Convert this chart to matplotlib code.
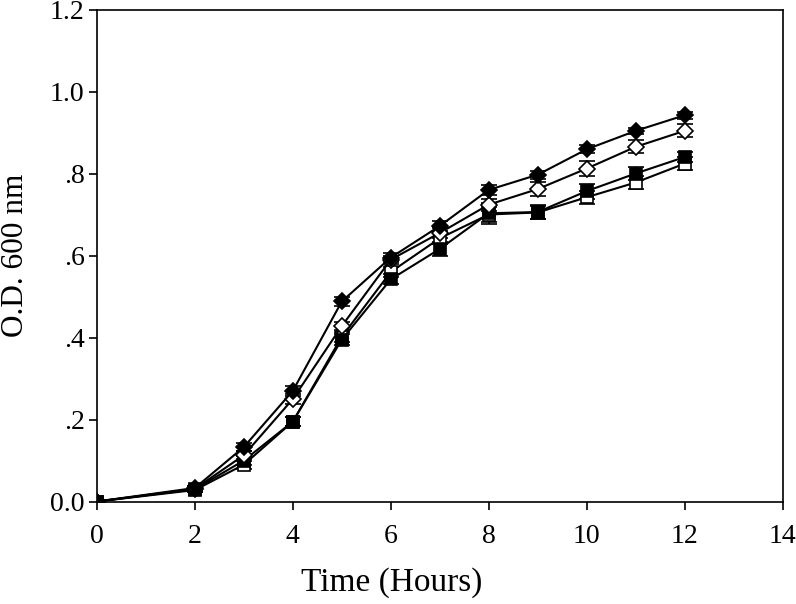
import matplotlib
matplotlib.use("Agg")
import matplotlib.pyplot as plt
from matplotlib.ticker import FixedLocator

plt.rcParams['font.family'] = ['Liberation Serif', 'DejaVu Serif']

hours = [0, 2, 3, 4, 5, 6, 7, 8, 9, 10, 11, 12]

filled_diamond = [0.0, 0.033, 0.133, 0.270, 0.488, 0.595, 0.672, 0.760, 0.797, 0.859, 0.904, 0.942]
filled_diamond_err = [0.004, 0.006, 0.010, 0.012, 0.010, 0.010, 0.012, 0.012, 0.010, 0.010, 0.008, 0.008]

open_diamond = [0.0, 0.031, 0.113, 0.250, 0.428, 0.590, 0.655, 0.724, 0.762, 0.812, 0.865, 0.904]
open_diamond_err = [0.004, 0.006, 0.010, 0.012, 0.010, 0.010, 0.012, 0.015, 0.018, 0.018, 0.016, 0.016]

filled_square = [0.0, 0.030, 0.100, 0.195, 0.395, 0.542, 0.616, 0.703, 0.706, 0.757, 0.800, 0.840]
filled_square_err = [0.004, 0.006, 0.010, 0.012, 0.014, 0.012, 0.018, 0.025, 0.016, 0.018, 0.016, 0.012]

open_square = [0.0, 0.028, 0.090, 0.195, 0.402, 0.560, 0.642, 0.700, 0.705, 0.742, 0.778, 0.824]
open_square_err = [0.004, 0.006, 0.010, 0.012, 0.012, 0.012, 0.014, 0.018, 0.016, 0.016, 0.016, 0.016]

xticks = [0, 2, 4, 6, 8, 10, 12, 14]
yticks = [0.0, 0.2, 0.4, 0.6, 0.8, 1.0, 1.2]
ytick_labels = ["0.0", ".2", ".4", ".6", ".8", "1.0", "1.2"]

fig = plt.figure(figsize=(7.96, 6.04), dpi=100)
ax = fig.add_axes([97 / 796, (604 - 501.5) / 604, 685.5 / 796, 492 / 604])

series = [
    (open_square, open_square_err, 's', 'white', 8),
    (filled_square, filled_square_err, 's', 'black', 8),
    (open_diamond, open_diamond_err, 'D', 'white', 8.5),
    (filled_diamond, filled_diamond_err, 'D', 'black', 8.5),
]
for vals, err, mk, fc, ms in series:
    ax.errorbar(hours, vals, yerr=err, color='black', lw=1.5, marker=mk,
                markerfacecolor=fc, markeredgecolor='black', markeredgewidth=1.2,
                markersize=ms, capsize=6, capthick=1.3, elinewidth=1.3)

ax.set_xlim(0, 14)
ax.set_ylim(0, 1.2)
ax.xaxis.set_major_locator(FixedLocator(xticks))
ax.set_yticks(yticks)
ax.set_yticklabels(ytick_labels)
ax.tick_params(axis='both', direction='out', length=6, width=1.2, labelsize=20,
               top=False, right=False)
ax.tick_params(axis='x', pad=10)
ax.tick_params(axis='y', pad=3)
for sp in ax.spines.values():
    sp.set_linewidth(1.2)
for t in ax.get_xticklabels() + ax.get_yticklabels():
    t.set_clip_on(False)
ax.set_xlabel("Time (Hours)", fontsize=24, labelpad=13)
ax.xaxis.label.set_x((392 - 97) / 685.5)
ax.set_ylabel("O.D. 600 nm", fontsize=22.5, labelpad=14)

fig.savefig("out.png", dpi=100)
